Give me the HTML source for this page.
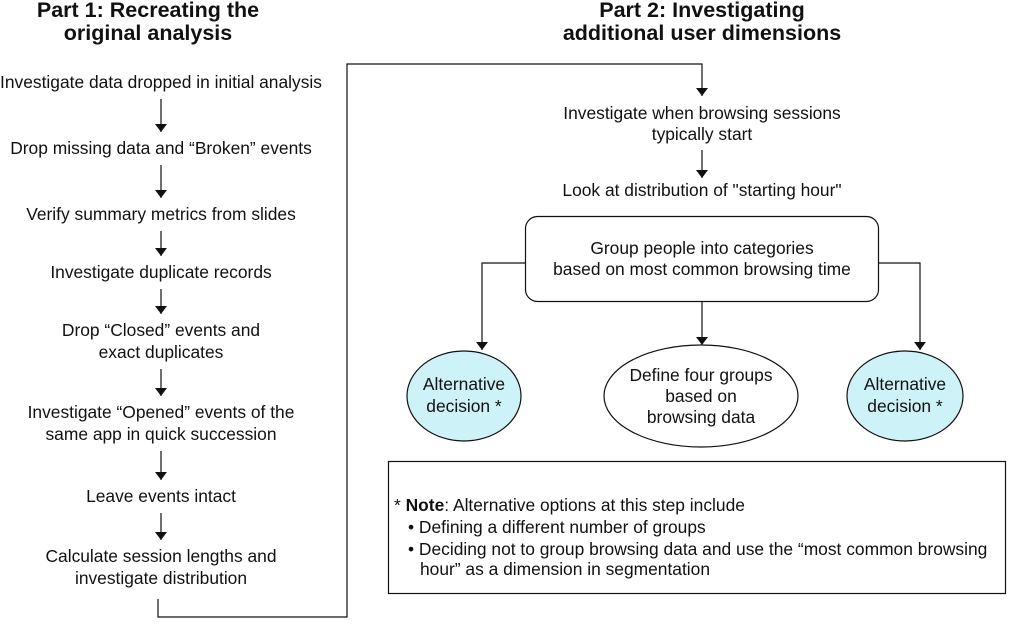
<!DOCTYPE html>
<html><head><style>
body{margin:0;background:#fff;}
svg text{font-family:"Liberation Sans",Arial,sans-serif;fill:#111;}
</style></head><body>
<svg width="1009" height="619" viewBox="0 0 1009 619" xmlns="http://www.w3.org/2000/svg">
<defs>
<marker id="b" viewBox="0 0 8 12" markerWidth="8" markerHeight="12" refX="8" refY="6" orient="auto" markerUnits="userSpaceOnUse"><path d="M0,0 L8,6 L0,12 Z" fill="#111"/></marker></defs>
<g font-size="21.5" font-weight="bold" text-anchor="middle">
<text x="148" y="17">Part 1: Recreating the</text>
<text x="148" y="40">original analysis</text>
<text x="702" y="17">Part 2: Investigating</text>
<text x="702" y="40">additional user dimensions</text>
</g>
<g font-size="17.4" text-anchor="middle">
<text x="161" y="88">Investigate data dropped in initial analysis</text>
<text x="161" y="154">Drop missing data and “Broken” events</text>
<text x="161" y="220">Verify summary metrics from slides</text>
<text x="161" y="278">Investigate duplicate records</text>
<text x="161" y="336">Drop “Closed” events and</text>
<text x="161" y="358">exact duplicates</text>
<text x="161" y="418">Investigate “Opened” events of the</text>
<text x="161" y="440">same app in quick succession</text>
<text x="161" y="502">Leave events intact</text>
<text x="161" y="562">Calculate session lengths and</text>
<text x="161" y="584">investigate distribution</text>
<text x="702" y="119">Investigate when browsing sessions</text>
<text x="702" y="140">typically start</text>
<text x="702" y="196">Look at distribution of "starting hour"</text>
<text x="702" y="254">Group people into categories</text>
<text x="702" y="275">based on most common browsing time</text>
</g>
<g stroke="#111" stroke-width="1.2" fill="none" marker-end="url(#b)">
<line x1="161" y1="99" x2="161" y2="132"/>
<line x1="161" y1="165" x2="161" y2="198"/>
<line x1="161" y1="231" x2="161" y2="256"/>
<line x1="161" y1="289" x2="161" y2="314"/>
<line x1="161" y1="369" x2="161" y2="396"/>
<line x1="161" y1="451" x2="161" y2="480"/>
<line x1="161" y1="513" x2="161" y2="540"/>
<polyline points="158,599 158,617 347,617 347,64 702,64 702,96"/>
<line x1="702" y1="150" x2="702" y2="178"/>
<polyline points="525,263 482,263 482,350"/>
<polyline points="879,263 920,263 920,350"/>
<line x1="702" y1="302" x2="702" y2="345"/>
</g>
<rect x="525.5" y="216.5" width="353" height="85" rx="12" fill="none" stroke="#111" stroke-width="1.2"/>
<ellipse cx="464" cy="396" rx="57" ry="45" fill="#cdf2f7" stroke="#111" stroke-width="1.2"/>
<ellipse cx="701" cy="396" rx="97" ry="51" fill="#fff" stroke="#111" stroke-width="1.2"/>
<ellipse cx="905" cy="396" rx="58" ry="45" fill="#cdf2f7" stroke="#111" stroke-width="1.2"/>
<g font-size="17.4" text-anchor="middle">
<text x="464" y="390">Alternative</text><text x="464" y="412">decision *</text>
<text x="701" y="381">Define four groups</text><text x="701" y="402">based on</text><text x="701" y="423">browsing data</text>
<text x="905" y="390">Alternative</text><text x="905" y="412">decision *</text>
</g>
<rect x="388.5" y="461.5" width="617" height="132" fill="none" stroke="#111" stroke-width="1.2"/>
<g font-size="17.4">
<text x="394" y="511">* <tspan font-weight="bold">Note</tspan>: Alternative options at this step include</text>
<text x="408" y="533">• Defining a different number of groups</text>
<text x="408" y="555">• Deciding not to group browsing data and use the “most common browsing</text>
<text x="420" y="575">hour” as a dimension in segmentation</text>
</g>
</svg>
</body></html>
